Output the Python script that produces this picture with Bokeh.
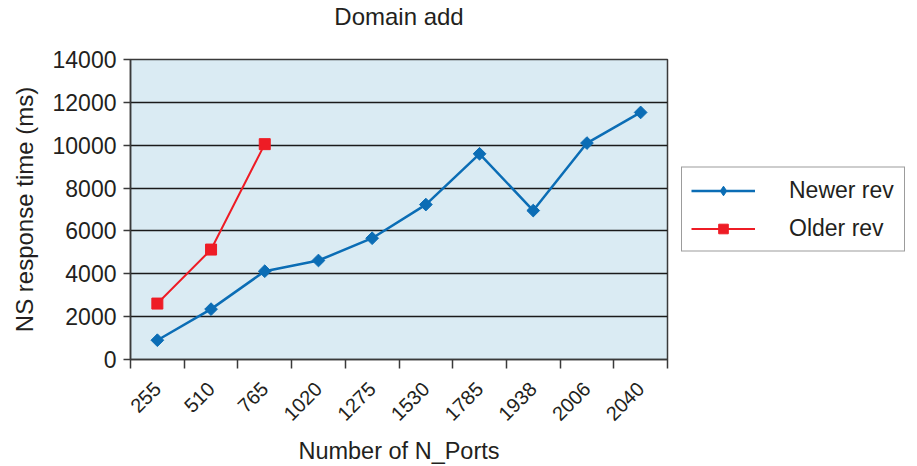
import numpy as np
from bokeh.plotting import figure
from bokeh.models import (Range1d, LinearAxis, FixedTicker, Legend, LegendItem, Title)
from bokeh.embed import file_html
from bokeh.resources import INLINE

ports = ["255", "510", "765", "1020", "1275", "1530", "1785", "1938", "2006", "2040"]
newer_rev = [900, 2350, 4120, 4620, 5660, 7230, 9600, 6950, 10100, 11530]
older_rev = [2610, 5130, 10050]
y_ticks = [0, 2000, 4000, 6000, 8000, 10000, 12000, 14000]

FONT = "Liberation Sans"
TXT = "#231f20"
BLUE = "#0b6db5"
RED = "#ee1c25"

# category slots: each category occupies one unit, marks at the slot centre
centers = [i + 0.5 for i in range(len(ports))]
bounds = list(range(len(ports) + 1))

p = figure(frame_width=537, frame_height=300,
           x_range=Range1d(0, len(ports)), y_range=Range1d(0, 14000),
           output_backend="svg", toolbar_location=None,
           title_location=None,
           x_axis_location=None, y_axis_location=None,
           min_border_left=130, min_border_right=250,
           min_border_top=59, min_border_bottom=100)

p.background_fill_color = "#daebf3"
p.border_fill_color = "white"
p.outline_line_color = "#3a3a3a"
p.outline_line_width = 1.5

# spacer title (closest to the frame) lifts the real title
spacer = Title(text=" ", text_font=FONT, text_font_size="10px", standoff=15)
p.add_layout(spacer, "above")
main_title = Title(text="Domain add", align="center", vertical_align="top",
                   standoff=0, text_font=FONT, text_font_size="24px",
                   text_font_style="normal", text_color=TXT)
p.add_layout(main_title, "above")

# y axis
yax = LinearAxis(ticker=FixedTicker(ticks=y_ticks),
                 axis_label="NS response time (ms)")
yax.axis_label_text_font = FONT
yax.axis_label_text_font_size = "24px"
yax.axis_label_text_font_style = "normal"
yax.axis_label_text_color = TXT
yax.axis_label_standoff = 12
yax.major_label_text_font = FONT
yax.major_label_text_font_size = "23px"
yax.major_label_text_color = TXT
yax.major_label_standoff = 7
yax.major_tick_out = 7
yax.major_tick_in = 0
yax.minor_tick_line_color = None
yax.axis_line_color = "#3a3a3a"
yax.axis_line_width = 1.5
yax.major_tick_line_color = "#3a3a3a"
yax.major_tick_line_width = 1.5
p.add_layout(yax, "left")

# x axis: boundary ticks between categories
tax = LinearAxis(ticker=FixedTicker(ticks=bounds))
tax.major_label_overrides = {b: "" for b in bounds}
tax.major_label_text_font_size = "1px"
tax.major_label_standoff = 0
tax.major_tick_out = 9
tax.major_tick_in = 0
tax.minor_tick_line_color = None
tax.axis_line_color = "#3a3a3a"
tax.axis_line_width = 1.5
tax.major_tick_line_color = "#3a3a3a"
tax.major_tick_line_width = 1.5
p.add_layout(tax, "below")

# x axis: category labels at slot centres
cax = LinearAxis(ticker=FixedTicker(ticks=centers), axis_label="Number of N_Ports")
cax.major_label_overrides = {c: lab for c, lab in zip(centers, ports)}
cax.axis_line_color = None
cax.major_tick_line_color = None
cax.minor_tick_line_color = None
cax.major_label_orientation = np.pi / 4
cax.major_label_text_font = FONT
cax.major_label_text_font_size = "20px"
cax.major_label_text_color = TXT
cax.major_label_standoff = 11
cax.axis_label_text_font = FONT
cax.axis_label_text_font_size = "23.5px"
cax.axis_label_text_font_style = "normal"
cax.axis_label_text_color = TXT
cax.axis_label_standoff = 8
p.add_layout(cax, "below")

p.ygrid.ticker = FixedTicker(ticks=y_ticks)
p.ygrid.grid_line_color = "#1a1a1a"
p.ygrid.grid_line_width = 1.5
p.xgrid.grid_line_color = None

nl = p.line(centers, newer_rev, line_color=BLUE, line_width=2.5)
ns = p.scatter(centers, newer_rev, marker="square", angle=np.pi / 4, size=9,
               fill_color=BLUE, line_color=BLUE)
# legend-only diamond (legend glyphs are drawn unrotated)
nd = p.scatter(centers, newer_rev, marker="diamond", size=17,
               fill_color=BLUE, line_color=BLUE, visible=False)
ol = p.line(centers[:len(older_rev)], older_rev, line_color=RED, line_width=2)
os_ = p.scatter(centers[:len(older_rev)], older_rev, marker="square", size=11,
                fill_color=RED, line_color=RED)

legend = Legend(items=[LegendItem(label="Newer rev", renderers=[nl, nd]),
                       LegendItem(label="Older rev", renderers=[ol, os_])],
                location="left")
legend.click_policy = "none"
legend.inactive_fill_alpha = 0
legend.label_text_font = FONT
legend.label_text_font_size = "23px"
legend.label_text_color = TXT
legend.glyph_width = 64
legend.glyph_height = 24
legend.label_standoff = 34
legend.label_width = 106
legend.label_height = 24
legend.padding = 9
legend.spacing = 11
legend.margin = 14
legend.border_line_color = "#3a3a3a"
legend.border_line_width = 1.5
legend.background_fill_color = "white"
legend.background_fill_alpha = 1
p.add_layout(legend, "right")

open("out.html", "w").write(file_html(p, INLINE))
